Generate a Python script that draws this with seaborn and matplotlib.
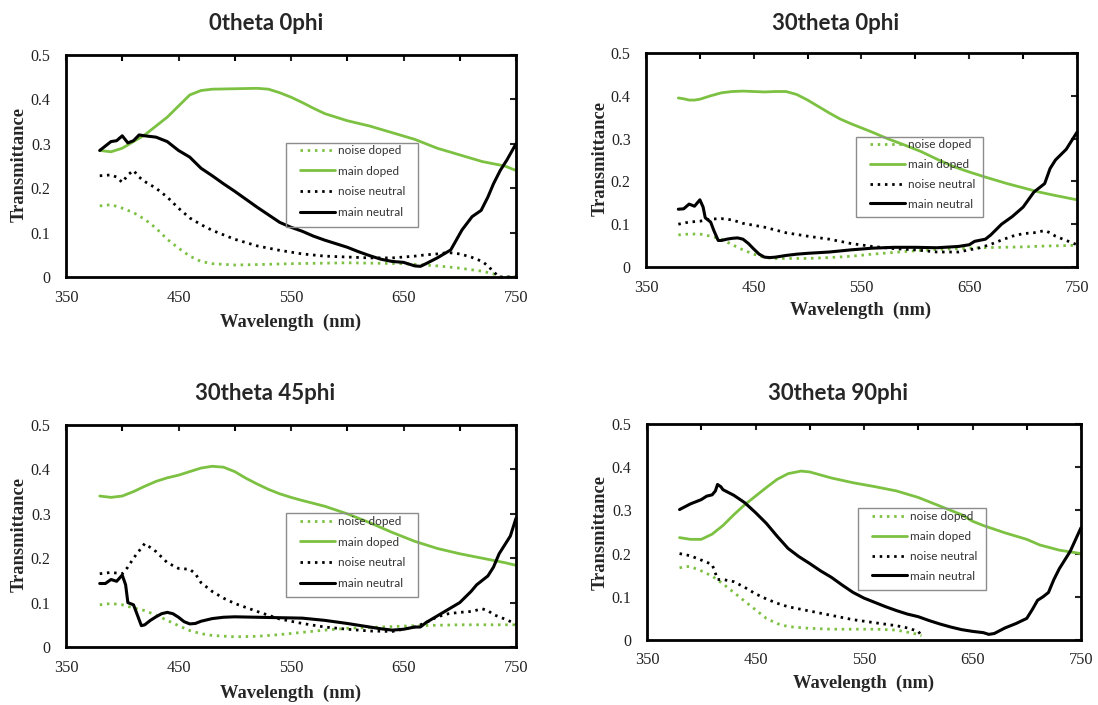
import matplotlib
matplotlib.use("Agg")
import matplotlib.pyplot as plt
import seaborn as sns
import pandas as pd
from matplotlib.ticker import MultipleLocator
from matplotlib.patches import Rectangle

# ---------------- data ----------------
titles = ["0theta 0phi", "30theta 0phi", "30theta 45phi", "30theta 90phi"]
series_names = ["noise doped", "main doped", "noise neutral", "main neutral"]

# Panel 1: 0theta 0phi
p1_nd_x = [380, 390, 400, 410, 420, 430, 440, 450, 460, 470, 480, 500, 520, 550, 600, 650, 680, 700, 720, 730, 735, 740, 750]
p1_nd_y = [0.160, 0.163, 0.155, 0.145, 0.130, 0.110, 0.085, 0.065, 0.047, 0.035, 0.030, 0.027, 0.028, 0.030, 0.032, 0.030, 0.025, 0.020, 0.013, 0.007, 0.0, 0.0, 0.0]
p1_md_x = [380, 390, 400, 410, 420, 430, 440, 450, 460, 470, 480, 500, 520, 530, 540, 550, 560, 570, 580, 600, 620, 640, 660, 680, 700, 720, 740, 750]
p1_md_y = [0.285, 0.282, 0.290, 0.305, 0.320, 0.340, 0.360, 0.385, 0.410, 0.420, 0.423, 0.424, 0.425, 0.423, 0.415, 0.405, 0.393, 0.380, 0.368, 0.352, 0.340, 0.325, 0.310, 0.290, 0.275, 0.260, 0.250, 0.240]
p1_nn_x = [380, 390, 395, 400, 405, 410, 415, 420, 430, 440, 450, 460, 470, 480, 490, 500, 520, 540, 560, 580, 600, 620, 640, 660, 670, 680, 690, 700, 710, 720, 725, 730, 735, 740, 750]
p1_nn_y = [0.228, 0.230, 0.225, 0.213, 0.230, 0.240, 0.225, 0.215, 0.200, 0.180, 0.155, 0.133, 0.118, 0.105, 0.095, 0.085, 0.070, 0.060, 0.052, 0.047, 0.045, 0.043, 0.043, 0.047, 0.050, 0.052, 0.055, 0.052, 0.045, 0.035, 0.025, 0.012, 0.0, 0.0, 0.0]
p1_mn_x = [380, 385, 390, 395, 400, 405, 410, 415, 420, 430, 440, 450, 460, 470, 480, 490, 500, 510, 520, 530, 540, 550, 560, 570, 580, 590, 600, 610, 620, 630, 640, 650, 660, 665, 670, 680, 692, 702, 711, 719, 725, 730, 736, 742, 750]
p1_mn_y = [0.285, 0.295, 0.305, 0.307, 0.318, 0.302, 0.307, 0.320, 0.318, 0.315, 0.305, 0.285, 0.270, 0.245, 0.228, 0.210, 0.193, 0.175, 0.157, 0.140, 0.123, 0.112, 0.103, 0.092, 0.083, 0.075, 0.067, 0.057, 0.048, 0.040, 0.035, 0.033, 0.025, 0.024, 0.030, 0.043, 0.061, 0.106, 0.136, 0.150, 0.180, 0.210, 0.240, 0.264, 0.300]

# Panel 2: 30theta 0phi
p2_nd_x = [380, 390, 400, 410, 420, 430, 440, 450, 460, 470, 480, 500, 520, 540, 560, 580, 600, 620, 640, 660, 680, 700, 720, 740, 750]
p2_nd_y = [0.075, 0.077, 0.077, 0.072, 0.065, 0.052, 0.040, 0.030, 0.022, 0.020, 0.020, 0.020, 0.022, 0.025, 0.030, 0.034, 0.038, 0.041, 0.043, 0.045, 0.046, 0.047, 0.049, 0.050, 0.051]
p2_md_x = [380, 385, 390, 395, 400, 410, 420, 430, 440, 450, 460, 470, 480, 490, 500, 510, 520, 530, 540, 550, 560, 574, 590, 605, 620, 635, 650, 665, 685, 700, 715, 730, 750]
p2_md_y = [0.395, 0.393, 0.390, 0.390, 0.392, 0.400, 0.407, 0.410, 0.411, 0.410, 0.409, 0.410, 0.410, 0.403, 0.390, 0.375, 0.360, 0.346, 0.335, 0.325, 0.315, 0.300, 0.285, 0.270, 0.252, 0.235, 0.222, 0.210, 0.195, 0.185, 0.175, 0.167, 0.157]
p2_nn_x = [380, 390, 400, 410, 420, 430, 440, 460, 480, 500, 520, 540, 560, 580, 600, 620, 640, 650, 660, 670, 680, 690, 700, 710, 720, 725, 730, 740, 750]
p2_nn_y = [0.100, 0.105, 0.107, 0.112, 0.113, 0.110, 0.102, 0.093, 0.080, 0.072, 0.065, 0.055, 0.048, 0.043, 0.040, 0.035, 0.035, 0.040, 0.045, 0.053, 0.063, 0.072, 0.078, 0.080, 0.085, 0.080, 0.072, 0.062, 0.052]
p2_mn_x = [380, 385, 390, 395, 400, 403, 405, 410, 413, 417, 420, 425, 430, 435, 440, 445, 450, 455, 460, 465, 470, 480, 490, 500, 520, 540, 560, 580, 600, 620, 640, 650, 655, 665, 670, 680, 690, 700, 710, 720, 725, 730, 740, 750]
p2_mn_y = [0.135, 0.136, 0.147, 0.142, 0.157, 0.140, 0.115, 0.105, 0.085, 0.062, 0.062, 0.065, 0.067, 0.068, 0.065, 0.055, 0.042, 0.030, 0.023, 0.022, 0.023, 0.027, 0.030, 0.032, 0.035, 0.040, 0.044, 0.046, 0.046, 0.045, 0.048, 0.052, 0.060, 0.065, 0.075, 0.100, 0.118, 0.140, 0.175, 0.195, 0.230, 0.250, 0.275, 0.315]

# Panel 3: 30theta 45phi
p3_nd_x = [380, 390, 400, 410, 420, 430, 440, 450, 460, 470, 480, 500, 520, 540, 560, 580, 600, 620, 640, 660, 680, 700, 720, 740, 750]
p3_nd_y = [0.095, 0.098, 0.095, 0.088, 0.082, 0.072, 0.060, 0.048, 0.037, 0.030, 0.026, 0.023, 0.024, 0.028, 0.033, 0.038, 0.042, 0.044, 0.046, 0.048, 0.049, 0.050, 0.050, 0.050, 0.050]
p3_md_x = [380, 390, 400, 410, 420, 430, 440, 450, 460, 470, 480, 490, 500, 510, 520, 530, 540, 550, 560, 580, 600, 620, 640, 660, 680, 700, 720, 740, 750]
p3_md_y = [0.340, 0.337, 0.340, 0.350, 0.362, 0.373, 0.381, 0.387, 0.395, 0.403, 0.407, 0.405, 0.395, 0.380, 0.367, 0.355, 0.345, 0.337, 0.330, 0.317, 0.300, 0.280, 0.258, 0.238, 0.222, 0.210, 0.200, 0.190, 0.184]
p3_nn_x = [380, 390, 400, 405, 410, 420, 430, 440, 450, 460, 465, 470, 480, 490, 500, 520, 540, 560, 580, 600, 620, 640, 660, 670, 680, 690, 700, 710, 720, 725, 730, 740, 750]
p3_nn_y = [0.165, 0.168, 0.165, 0.180, 0.200, 0.233, 0.215, 0.190, 0.177, 0.175, 0.165, 0.145, 0.125, 0.110, 0.098, 0.080, 0.063, 0.053, 0.045, 0.040, 0.036, 0.035, 0.045, 0.055, 0.068, 0.075, 0.078, 0.080, 0.086, 0.082, 0.073, 0.063, 0.052]
p3_mn_x = [380, 385, 390, 395, 400, 403, 405, 410, 413, 417, 420, 425, 430, 435, 440, 445, 450, 455, 460, 465, 470, 480, 490, 500, 520, 540, 560, 580, 600, 620, 630, 640, 650, 660, 665, 670, 680, 690, 700, 710, 715, 720, 725, 730, 735, 740, 745, 750]
p3_mn_y = [0.143, 0.143, 0.152, 0.148, 0.162, 0.140, 0.100, 0.095, 0.075, 0.048, 0.050, 0.060, 0.068, 0.075, 0.078, 0.075, 0.067, 0.057, 0.052, 0.053, 0.058, 0.064, 0.067, 0.068, 0.067, 0.066, 0.065, 0.060, 0.053, 0.045, 0.041, 0.038, 0.040, 0.045, 0.045, 0.055, 0.070, 0.085, 0.100, 0.125, 0.140, 0.150, 0.160, 0.180, 0.210, 0.230, 0.250, 0.290]

# Panel 4: 30theta 90phi
p4_nd_x = [380, 385, 390, 400, 410, 420, 430, 440, 450, 460, 470, 480, 500, 520, 540, 560, 580, 590, 600, 603]
p4_nd_y = [0.167, 0.170, 0.170, 0.160, 0.148, 0.130, 0.110, 0.090, 0.070, 0.050, 0.038, 0.031, 0.027, 0.025, 0.025, 0.025, 0.023, 0.018, 0.013, 0.010]
p4_md_x = [380, 390, 400, 410, 420, 430, 440, 450, 460, 470, 480, 492, 500, 510, 520, 540, 560, 580, 600, 620, 640, 650, 660, 680, 700, 712, 730, 750]
p4_md_y = [0.237, 0.233, 0.233, 0.245, 0.265, 0.290, 0.313, 0.333, 0.353, 0.372, 0.385, 0.391, 0.389, 0.382, 0.375, 0.364, 0.355, 0.345, 0.330, 0.310, 0.290, 0.275, 0.265, 0.248, 0.233, 0.220, 0.208, 0.200]
p4_nn_x = [380, 390, 400, 410, 413, 415, 420, 430, 440, 450, 460, 470, 480, 500, 520, 540, 560, 580, 590, 600, 603]
p4_nn_y = [0.200, 0.195, 0.185, 0.175, 0.155, 0.140, 0.140, 0.135, 0.122, 0.107, 0.095, 0.085, 0.077, 0.067, 0.057, 0.047, 0.040, 0.033, 0.028, 0.020, 0.010]
p4_mn_x = [380, 390, 400, 405, 410, 413, 415, 418, 420, 430, 440, 450, 460, 470, 480, 490, 500, 510, 520, 530, 540, 550, 560, 570, 580, 590, 600, 610, 620, 630, 640, 650, 660, 665, 670, 680, 690, 700, 705, 710, 715, 720, 725, 730, 740, 750]
p4_mn_y = [0.302, 0.315, 0.325, 0.333, 0.336, 0.345, 0.360, 0.355, 0.348, 0.335, 0.318, 0.295, 0.270, 0.240, 0.212, 0.193, 0.177, 0.160, 0.145, 0.127, 0.110, 0.097, 0.087, 0.077, 0.068, 0.060, 0.054, 0.045, 0.037, 0.030, 0.024, 0.020, 0.017, 0.013, 0.015, 0.028, 0.038, 0.050, 0.070, 0.092, 0.100, 0.110, 0.140, 0.165, 0.205, 0.260]

panels = [
    [(p1_nd_x, p1_nd_y), (p1_md_x, p1_md_y), (p1_nn_x, p1_nn_y), (p1_mn_x, p1_mn_y)],
    [(p2_nd_x, p2_nd_y), (p2_md_x, p2_md_y), (p2_nn_x, p2_nn_y), (p2_mn_x, p2_mn_y)],
    [(p3_nd_x, p3_nd_y), (p3_md_x, p3_md_y), (p3_nn_x, p3_nn_y), (p3_mn_x, p3_mn_y)],
    [(p4_nd_x, p4_nd_y), (p4_md_x, p4_md_y), (p4_nn_x, p4_nn_y), (p4_mn_x, p4_mn_y)],
]

x_ticks = [350, 450, 550, 650, 750]
y_ticks = [0, 0.1, 0.2, 0.3, 0.4, 0.5]
y_ticklabels = ["0", "0.1", "0.2", "0.3", "0.4", "0.5"]

# ---------------- layout (pixels) ----------------
W, H = 1098, 705
GREEN = "#7cc142"
BLACK = "#000000"
styles = [
    dict(color=GREEN, linestyle=(0, (0.9, 1.7)), linewidth=2.0),
    dict(color=GREEN, linestyle="-", linewidth=2.0),
    dict(color=BLACK, linestyle=(0, (0.9, 1.7)), linewidth=2.0),
    dict(color=BLACK, linestyle="-", linewidth=2.2),
]

# axes boxes: left, top, right, bottom in pixels
boxes = [(66, 55, 516, 277), (646, 53, 1077, 267), (66, 425, 516, 647), (647, 424, 1081, 640)]
title_pos = [(266, 23), (836, 23), (265, 393), (838, 393)]
ylab_pos = [(19, 165), (600, 158), (19, 535), (600, 532)]
xlab_pos = [(291, 322), (861, 310), (291, 693), (864, 683)]
# legend frame (left, top, right, bottom), first-row centre y, handle start x
legend_frame = [(286, 143, 418, 227), (856, 137, 983, 217), (286, 513, 418, 597), (858, 508, 986, 590)]
legend_row1 = [152, 146, 523, 518]
legend_hx = [300, 870, 300, 872]
legend_spacing = [0.81, 0.75, 0.81, 0.75]

sns.set_style("white")
plt.rcParams["font.family"] = ["Liberation Serif", "DejaVu Serif"]

fig = plt.figure(figsize=(W / 100, H / 100), dpi=100)

for i in range(4):
    l, t, r, b = boxes[i]
    ax = fig.add_axes([l / W, 1 - b / H, (r - l) / W, (b - t) / H])
    for (xs, ys), name, st in zip(panels[i], series_names, styles):
        df = pd.DataFrame({"Wavelength": xs, "Transmittance": ys})
        sns.lineplot(data=df, x="Wavelength", y="Transmittance", ax=ax,
                     label=name, estimator=None, sort=False, clip_on=False, **st)
    ax.set_xlim(350, 750)
    ax.set_ylim(0, 0.5)
    ax.set_xticks(x_ticks)
    ax.set_xticklabels([str(v) for v in x_ticks])
    ax.xaxis.set_minor_locator(MultipleLocator(50))
    ax.set_yticks(y_ticks)
    ax.set_yticklabels(y_ticklabels)
    ax.tick_params(axis="both", which="both", direction="in", top=True, right=True,
                   length=4, width=1.5, color="black")
    ax.tick_params(axis="x", which="major", labelsize=11.8, pad=9, colors="#222222")
    ax.tick_params(axis="y", which="major", labelsize=11.5, pad=11, colors="#222222")
    for s in ax.spines.values():
        s.set_linewidth(2.0)
        s.set_color("black")
    ax.set_xlabel("")
    ax.set_ylabel("")
    ax.grid(False)

    # legend frame (transparent, curves show through as in the reference)
    fl, ft, fr, fb = legend_frame[i]
    ax.add_patch(Rectangle((fl / W, 1 - fb / H), (fr - fl) / W, (fb - ft) / H,
                           transform=fig.transFigure, facecolor="none",
                           edgecolor="#8c8c8c", linewidth=1.0, zorder=5, clip_on=False))
    leg = ax.legend(loc="upper left",
                    bbox_to_anchor=(legend_hx[i] / W, 1 - (legend_row1[i] - 7) / H),
                    bbox_transform=fig.transFigure, frameon=False,
                    prop={"family": ["Lato", "DejaVu Sans"], "size": 8.5},
                    handlelength=2.95, handletextpad=0.3, labelspacing=legend_spacing[i],
                    borderpad=0, borderaxespad=0)
    leg.set_zorder(6)
    for txt in leg.get_texts():
        txt.set_color("#333333")

    tx, ty = title_pos[i]
    fig.text(tx / W, 1 - ty / H, titles[i], ha="center", va="center",
             fontsize=16, fontweight="bold", family=["Lato", "DejaVu Sans"])
    yx, yy = ylab_pos[i]
    fig.text(yx / W, 1 - yy / H, "Transmittance", ha="center", va="center",
             rotation=90, fontsize=13.3, fontweight="bold")
    xx, xy = xlab_pos[i]
    fig.text(xx / W, 1 - xy / H, "Wavelength  (nm)", ha="center", va="center",
             fontsize=13.3, fontweight="bold")

fig.savefig("out.png", dpi=100)
